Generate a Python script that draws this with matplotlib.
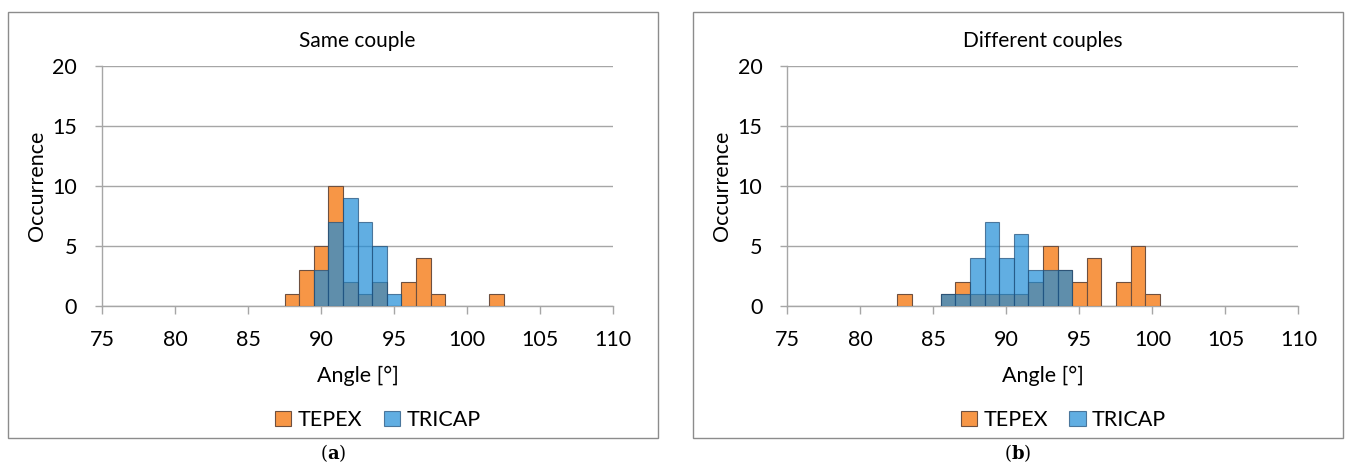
import matplotlib.pyplot as plt
from matplotlib.patches import Rectangle

plt.rcParams['font.family'] = ['Lato', 'DejaVu Sans']

# histogram bins are 1 degree wide, centred on integer angles
same_tepex_ang = [88, 89, 90, 91, 92, 93, 94, 96, 97, 98, 102]
same_tepex_cnt = [1, 3, 5, 10, 2, 1, 2, 2, 4, 1, 1]
same_tricap_ang = [90, 91, 92, 93, 94, 95]
same_tricap_cnt = [3, 7, 9, 7, 5, 1]

diff_tepex_ang = [83, 86, 87, 88, 89, 90, 91, 92, 93, 94, 95, 96, 98, 99, 100]
diff_tepex_cnt = [1, 1, 2, 1, 1, 1, 1, 2, 5, 3, 2, 4, 2, 5, 1]
diff_tricap_ang = [86, 87, 88, 89, 90, 91, 92, 93, 94]
diff_tricap_cnt = [1, 1, 4, 7, 4, 6, 3, 3, 3]

titles = ["Same couple", "Different couples"]
captions = ["a", "b"]
xticks = [75, 80, 85, 90, 95, 100, 105, 110]
yticks = [0, 5, 10, 15, 20]

ORANGE = '#F79646'
BLUE = '#1E8CD7'
GRID = '#A6A6A6'

fig = plt.figure(figsize=(13.5, 4.66), dpi=100)

panels = [
    (same_tepex_ang, same_tepex_cnt, same_tricap_ang, same_tricap_cnt),
    (diff_tepex_ang, diff_tepex_cnt, diff_tricap_ang, diff_tricap_cnt),
]
ax_left = [0.0756, 0.5833]
frame_left = [0.0059, 0.5133]

for i, (ta, tc, ra, rc) in enumerate(panels):
    # outer chart frame
    fig.add_artist(Rectangle((frame_left[i], 0.060), 0.4815, 0.914,
                             transform=fig.transFigure, fill=False,
                             edgecolor='#8C8C8C', linewidth=1.0))

    ax = fig.add_axes([ax_left[i], 0.3433, 0.3785, 0.515])
    ax.bar(ta, tc, width=1, color=ORANGE, edgecolor='#6E5040',
           linewidth=0.8, zorder=3, label='TEPEX')
    ax.bar(ra, rc, width=1, color=BLUE, alpha=0.7, edgecolor='#1F4E79',
           linewidth=0.8, zorder=4, label='TRICAP')

    ax.set_xlim(75, 110)
    ax.set_ylim(0, 20)
    ax.set_xticks(xticks)
    ax.set_yticks(yticks)
    ax.yaxis.grid(True, color=GRID, linewidth=1.0, zorder=0)
    ax.set_axisbelow(True)
    for s in ['top', 'right']:
        ax.spines[s].set_visible(False)
    for s in ['left', 'bottom']:
        ax.spines[s].set_color(GRID)
        ax.spines[s].set_linewidth(1.0)
    ax.tick_params(axis='x', colors=GRID, labelcolor='black', length=6,
                   width=1, labelsize=15.5, pad=11)
    ax.tick_params(axis='y', colors=GRID, labelcolor='black', length=5,
                   width=1, labelsize=15.5, pad=13)

    ax.set_title(titles[i], fontsize=15, pad=14)
    ax.set_xlabel("Angle [°]", fontsize=15.5, labelpad=12)
    ax.set_ylabel("Occurrence", fontsize=15.5, labelpad=4)

    ax.legend(loc='center', bbox_to_anchor=(0.54, -0.475), ncol=2,
              frameon=False, fontsize=15.5, handlelength=0.75,
              handleheight=0.75, handletextpad=0.3, columnspacing=1.0)

    fig.text(frame_left[i] + 0.4815 / 2, 0.028, r"($\mathbf{%s}$)" % captions[i],
             ha='center', va='center', fontsize=13,
             family='DejaVu Serif', math_fontfamily='dejavuserif')

plt.savefig("out.png", dpi=100, facecolor='white')
plt.close(fig)
